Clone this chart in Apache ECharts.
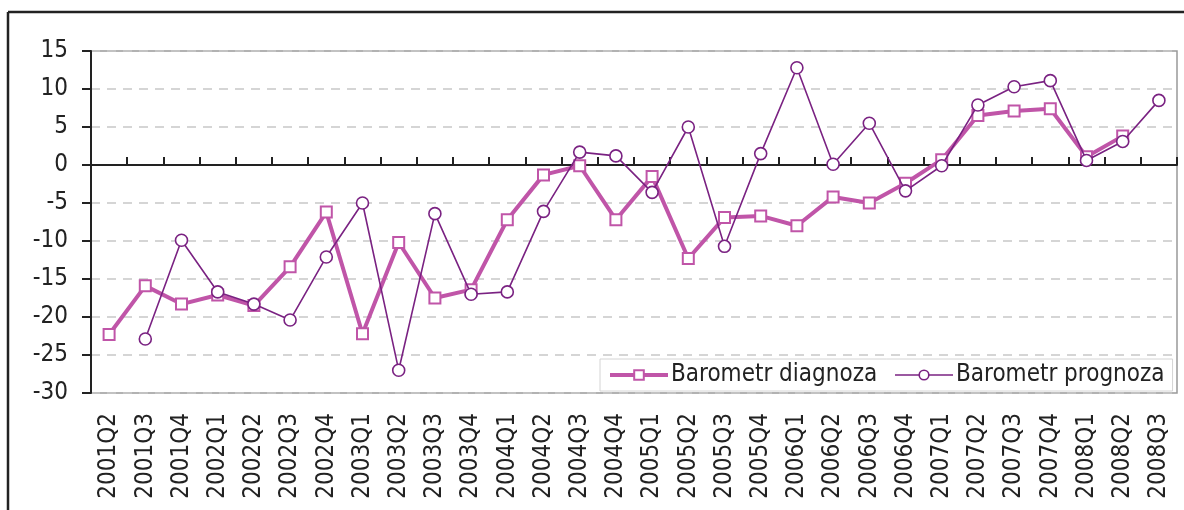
<!DOCTYPE html>
<html>
<head>
<meta charset="utf-8">
<script src="https://cdn.jsdelivr.net/npm/echarts@6/dist/echarts.min.js"></script>
<style>
html,body{margin:0;padding:0;background:#fff;}
#chart{width:1184px;height:510px;}
</style>
</head>
<body>
<div id="chart"></div>
<script>
const categories = ['2001Q2','2001Q3','2001Q4','2002Q1','2002Q2','2002Q3','2002Q4','2003Q1','2003Q2','2003Q3','2003Q4','2004Q1','2004Q2','2004Q3','2004Q4','2005Q1','2005Q2','2005Q3','2005Q4','2006Q1','2006Q2','2006Q3','2006Q4','2007Q1','2007Q2','2007Q3','2007Q4','2008Q1','2008Q2','2008Q3'];
const diagnoza = [-22.3,-15.9,-18.3,-17.1,-18.5,-13.4,-6.2,-22.2,-10.2,-17.5,-16.4,-7.2,-1.3,-0.1,-7.2,-1.5,-12.3,-6.9,-6.7,-8.0,-4.2,-5.0,-2.4,0.7,6.5,7.1,7.4,1.1,3.8,'-'];
const prognoza = ['-',-22.9,-9.9,-16.7,-18.3,-20.4,-12.1,-5.0,-27.0,-6.4,-17.0,-16.7,-6.1,1.7,1.2,-3.6,5.0,-10.7,1.5,12.8,0.1,5.5,-3.4,-0.1,7.9,10.3,11.1,0.6,3.1,8.5];
const seriesNames = ['Barometr diagnoza','Barometr prognoza'];
const yMin = -30, yMax = 15, yStep = 5;

const C1 = '#c055a8', C2 = '#7a2282';
const FONT = '"DejaVu Sans Condensed", "DejaVu Sans", sans-serif';
const chart = echarts.init(document.getElementById('chart'), null, {renderer:'canvas'});
chart.setOption({
  animation: false,
  backgroundColor: '#fff',
  textStyle: {fontFamily: FONT},
  graphic: [
    {type:'line', shape:{x1:8, y1:12, x2:1184, y2:12}, style:{stroke:'#222', lineWidth:2.5}, z:10},
    {type:'line', shape:{x1:8, y1:12, x2:8, y2:510}, style:{stroke:'#222', lineWidth:2.5}, z:10}
  ],
  grid: {left:91, right:7, top:51, bottom:117, show:true, borderColor:'#999', borderWidth:1.5, backgroundColor:'#fff'},
  legend: {
    left: 600, top: 359,
    padding: [4, 8, 4, 8],
    backgroundColor: '#fff',
    borderColor: '#d4d4d4', borderWidth: 1,
    itemWidth: 58, itemHeight: 12, itemGap: 17,
    textStyle: {fontFamily: FONT, fontSize: 24, color:'#222', padding:[0,0,0,-2]},
    data: [
      {name: seriesNames[0], lineStyle:{width:4, color:C1}, itemStyle:{color:'#fff', borderColor:C1, borderWidth:2}},
      {name: seriesNames[1], lineStyle:{width:1.6, color:C2}, itemStyle:{color:'#fff', borderColor:C2, borderWidth:1.6}}
    ]
  },
  xAxis: [
    {
      type:'category', data: categories, position:'bottom', boundaryGap:true,
      axisLine:{show:false, onZero:false}, axisTick:{show:false},
      axisLabel:{interval:0, rotate:90, margin:20, fontFamily:FONT, fontSize:24, color:'#222'},
      splitLine:{show:false}
    },
    {
      type:'category', data: categories, position:'top', boundaryGap:true,
      axisLine:{show:true, onZero:true, lineStyle:{color:'#222', width:2}},
      axisTick:{show:true, length:8, interval:0, lineStyle:{color:'#222', width:2}},
      axisLabel:{show:false}, splitLine:{show:false}
    }
  ],
  yAxis: {
    type:'value', min:yMin, max:yMax, interval:yStep,
    axisLine:{show:true, lineStyle:{color:'#222', width:2}},
    axisTick:{show:true, length:9, lineStyle:{color:'#222', width:2}},
    axisLabel:{margin:23, fontFamily:FONT, fontSize:24, color:'#222'},
    splitLine:{show:true, lineStyle:{color:'#c8c8c8', type:[9,7], width:1.5}}
  },
  series: [
    {
      name: seriesNames[0], type:'line', data: diagnoza, xAxisIndex:0,
      symbol:'rect', symbolSize:11, showAllSymbol:true,
      lineStyle:{color:C1, width:4},
      itemStyle:{color:'#fff', borderColor:C1, borderWidth:2},
      z:3
    },
    {
      name: seriesNames[1], type:'line', data: prognoza, xAxisIndex:0,
      symbol:'circle', symbolSize:12, showAllSymbol:true,
      lineStyle:{color:C2, width:1.6},
      itemStyle:{color:'#fff', borderColor:C2, borderWidth:1.6},
      z:4
    }
  ]
});
</script>
</body>
</html>
